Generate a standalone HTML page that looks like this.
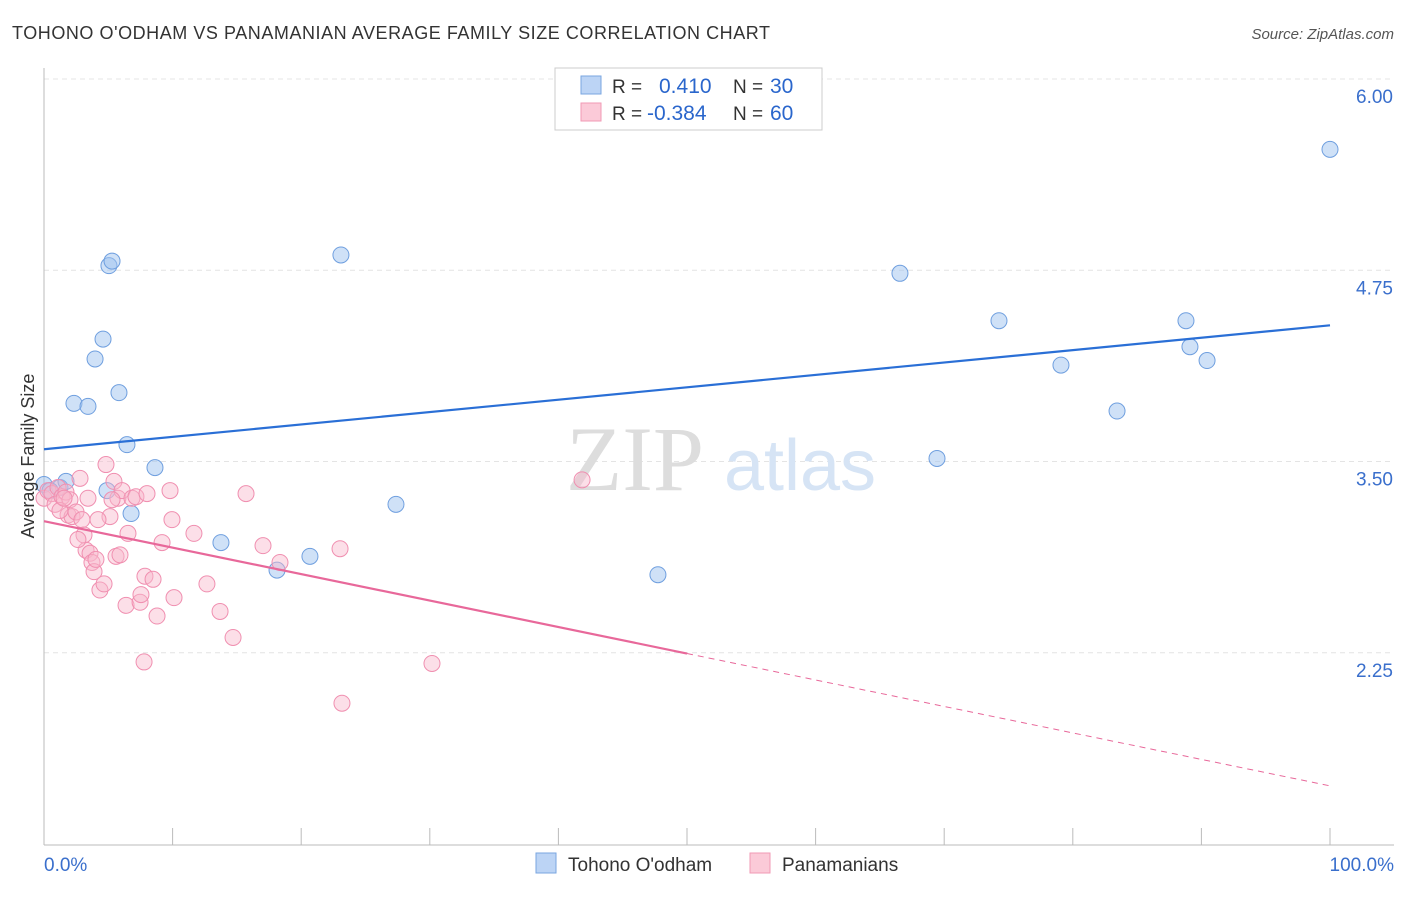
<!DOCTYPE html>
<html><head><meta charset="utf-8"><style>
body{margin:0;background:#fff;font-family:"Liberation Sans",sans-serif}
</style></head><body>
<svg id="chart" width="1406" height="892" xmlns="http://www.w3.org/2000/svg" font-family="Liberation Sans, sans-serif">
<text x="12" y="39" font-size="18" fill="#333" textLength="758" lengthAdjust="spacing">TOHONO O'ODHAM VS PANAMANIAN AVERAGE FAMILY SIZE CORRELATION CHART</text>
<text x="1394" y="39" font-size="15" fill="#555" font-style="italic" text-anchor="end">Source: ZipAtlas.com</text>
<g id="grid"></g>
<g id="axes"></g>
<text x="635" y="490" font-size="92" fill="#ddd" font-family="Liberation Serif, serif" text-anchor="middle">ZIP</text>
<text x="800" y="490" font-size="72" fill="#d6e4f5" text-anchor="middle">atlas</text>
<g id="marks"></g>
<text transform="translate(34,456) rotate(-90)" font-size="18" fill="#333" text-anchor="middle">Average Family Size</text>
<g>
<rect x="555" y="68" width="267" height="62" fill="#fff" stroke="#ccc"/>
<rect x="581" y="76" width="20" height="18" fill="#bcd4f5" stroke="#7aa6e0"/>
<rect x="581" y="103" width="20" height="18" fill="#fbcad8" stroke="#f09ab5"/>
<text x="612" y="93" font-size="19" fill="#333">R = </text><text x="659" y="93" font-size="21" fill="#2a66cc">0.410</text>
<text x="733" y="93" font-size="19" fill="#333">N = </text><text x="770" y="93" font-size="21" fill="#2a66cc">30</text>
<text x="612" y="120" font-size="19" fill="#333">R = </text><text x="647" y="120" font-size="21" fill="#2a66cc">-0.384</text>
<text x="733" y="120" font-size="19" fill="#333">N = </text><text x="770" y="120" font-size="21" fill="#2a66cc">60</text>
</g>
<g>
<rect x="536" y="853" width="20" height="20" fill="#bcd4f5" stroke="#7aa6e0"/>
<text x="568" y="871" font-size="19" fill="#333">Tohono O'odham</text>
<rect x="750" y="853" width="20" height="20" fill="#fbcad8" stroke="#f09ab5"/>
<text x="782" y="871" font-size="19" fill="#333">Panamanians</text>
</g>
</svg>
<script>
const yTicks=[6.00,4.75,3.50,2.25];
const yTickLabels=["6.00","4.75","3.50","2.25"];
const xTickLabels=["0.0%","100.0%"];
const blueX=[0,1.24,1.71,4.90,2.33,3.42,3.97,4.59,5.05,5.29,5.83,6.45,6.77,8.63,13.76,18.12,20.68,23.09,27.37,47.74,66.56,69.44,74.26,79.08,83.44,88.80,89.11,90.44,100,0.47];
const blueY=[3.35,3.33,3.37,3.31,3.88,3.86,4.17,4.30,4.78,4.81,3.95,3.61,3.16,3.46,2.97,2.79,2.88,4.85,3.22,2.76,4.73,3.52,4.42,4.13,3.83,4.42,4.25,4.16,5.54,3.31];
const pinkX=[0,0.31,0.62,0.86,1.09,1.4,1.71,2.02,1.87,2.18,2.49,2.8,2.95,3.11,3.27,3.42,3.58,3.73,3.89,4.04,4.35,4.67,4.82,5.13,5.44,5.6,5.75,6.07,6.38,6.53,6.84,7.15,7.47,7.54,7.85,8.01,8.48,8.79,9.18,9.8,9.95,10.11,11.66,12.67,13.69,14.7,15.71,17.03,18.35,23.02,23.17,30.17,41.84,7.78,1.24,1.56,2.64,4.2,5.91,5.29];
const pinkY=[3.26,3.31,3.29,3.22,3.33,3.27,3.30,3.25,3.15,3.14,3.17,3.39,3.12,3.02,2.92,3.26,2.90,2.84,2.78,2.86,2.66,2.70,3.48,3.14,3.37,2.88,3.26,3.31,2.56,3.03,3.26,3.27,2.58,2.63,2.75,3.29,2.73,2.49,2.97,3.31,3.12,2.61,3.03,2.70,2.52,2.35,3.29,2.95,2.84,2.93,1.92,2.18,3.38,2.19,3.18,3.26,2.99,3.12,2.89,3.25];
const blueLine=[3.58,4.39];
const pinkLine=[3.11,1.38];
const NS="http://www.w3.org/2000/svg";
const X=v=>44+v*12.86, Y=v=>79+(6-v)*153;
function mk(t,a,p){const e=document.createElementNS(NS,t);for(const k in a)e.setAttribute(k,a[k]);p.appendChild(e);return e;}
const grid=document.getElementById('grid'),axes=document.getElementById('axes'),marks=document.getElementById('marks');
yTicks.forEach((v,i)=>{
 const l=mk('line',{x1:44,x2:1394,y1:Y(v),y2:Y(v),stroke:'#e4e4e4','stroke-dasharray':'5,4'},grid);
 
 
 const t=mk('text',{x:1393,y:Y(v)+24,'font-size':19,fill:'#3a6fcc','text-anchor':'end'},axes);
 t.textContent=yTickLabels[i];
 
 
});
mk('line',{x1:44,x2:44,y1:68,y2:845,stroke:'#bbb'},axes);
mk('line',{x1:44,x2:1394,y1:845,y2:845,stroke:'#bbb'},axes);
for(let i=0;i<=10;i++){const tk=mk('line',{x1:X(i*10),x2:X(i*10),y1:828,y2:845,stroke:'#bbb'},axes);
 
 }
[[0,'start',44],[1,'end',1394]].forEach(([i,a,x])=>{const t=mk('text',{x:x,y:871,'font-size':19,fill:'#3a6fcc','text-anchor':a},axes);t.textContent=xTickLabels[i];
 
 });
blueX.forEach((x,i)=>{const c=mk('circle',{cx:X(x),cy:Y(blueY[i]),r:8,fill:'rgba(160,195,240,0.5)',stroke:'#6f9fdf','stroke-width':1},marks);
 
 });
pinkX.forEach((x,i)=>{const c=mk('circle',{cx:X(x),cy:Y(pinkY[i]),r:8,fill:'rgba(248,185,205,0.45)',stroke:'#f08fb0','stroke-width':1},marks);
 
 });
const bl=mk('line',{x1:X(0),y1:Y(blueLine[0]),x2:X(100),y2:Y(blueLine[1]),stroke:'#2a6fd6','stroke-width':2.2},marks);


const pm=pinkLine[0]+(pinkLine[1]-pinkLine[0])*0.5;
const pl=mk('line',{x1:X(0),y1:Y(pinkLine[0]),x2:X(50),y2:Y(pm),stroke:'#e8689a','stroke-width':2.2},marks);


const pd=mk('line',{x1:X(50),y1:Y(pm),x2:X(100),y2:Y(pinkLine[1]),stroke:'#e8689a','stroke-width':1,'stroke-dasharray':'6,5'},marks);


</script>
</body></html>
